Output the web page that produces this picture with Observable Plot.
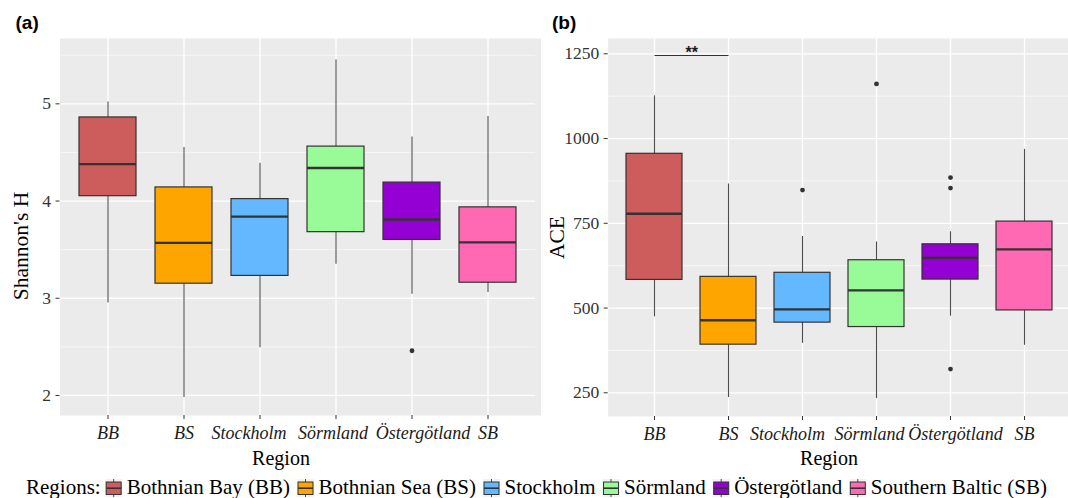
<!DOCTYPE html>
<html><head><meta charset="utf-8">
<script src="https://cdn.jsdelivr.net/npm/d3@7"></script>
<script src="https://cdn.jsdelivr.net/npm/@observablehq/plot@0.6"></script>
<style>
html,body{margin:0;padding:0;background:#fff;}
#wrap{position:relative;width:1068px;height:498px;overflow:hidden;background:#fff;}
#wrap svg{position:absolute;top:0;}
</style></head><body><div id="wrap"></div>
<script>
// ---------- data ----------
const categories = ["BB", "BS", "Stockholm", "Sörmland", "Östergötland", "SB"];
const regionNames = ["Bothnian Bay (BB)", "Bothnian Sea (BS)", "Stockholm", "Sörmland", "Östergötland", "Southern Baltic (SB)"];
const colors = ["#CD5C5C", "#FFA500", "#63B8FF", "#98FB98", "#9400D3", "#FF69B4"];

// Shannon's H (panel a)
const shLow  = [2.95, 1.98, 2.49, 3.35, 3.04, 3.06];
const shQ1   = [4.05, 3.15, 3.23, 3.68, 3.60, 3.16];
const shMed  = [4.38, 3.57, 3.84, 4.34, 3.81, 3.575];
const shQ3   = [4.86, 4.14, 4.02, 4.56, 4.19, 3.935];
const shHigh = [5.02, 4.55, 4.39, 5.45, 4.66, 4.87];
const shOutRegion = ["Östergötland"];
const shOutValue  = [2.46];
const shTicks = [2, 3, 4, 5];
const shMinor = [2.5, 3.5, 4.5, 5.5];

// ACE (panel b)
const aceLow  = [474, 236, 396, 233, 476, 390];
const aceQ1   = [583, 392, 457, 444, 584, 493];
const aceMed  = [778, 464, 496, 552, 648, 673];
const aceQ3   = [955, 592, 604, 641, 688, 755];
const aceHigh = [1126, 866, 711, 695, 725, 968];
const aceOutRegion = ["Stockholm", "Sörmland", "Östergötland", "Östergötland", "Östergötland"];
const aceOutValue  = [848, 1161, 885, 854, 320];
const aceTicks = [250, 500, 750, 1000, 1250];
const aceMinor = [375, 625, 875, 1125];

// significance annotation
const sigFrom = ["BB"], sigTo = ["BS"], sigValue = [1245], sigLabel = ["**"];

// ---------- drawing ----------
const wrap = document.getElementById("wrap");
const SERIF = "'Liberation Serif', 'Times New Roman', serif";
const SANS = "'Liberation Sans', Arial, sans-serif";

function panel(o) {
  const rows = categories.map((c, i) => ({region: c, low: o.low[i], q1: o.q1[i], med: o.med[i], q3: o.q3[i], high: o.high[i], color: colors[i]}));
  const outs = o.outRegion.map((r, i) => ({region: r, value: o.outValue[i]}));
  const labelMarks = categories.map((c, i) => Plot.text([c], {
    x: d => d, text: d => d, frameAnchor: "bottom", lineAnchor: "top", dy: 10.5, dx: o.shifts[i],
    fontStyle: "italic", fontSize: 18, fontFamily: SERIF, fill: "#1a1a1a"
  }));
  const svg = Plot.plot({
    width: o.width, height: 470,
    marginLeft: o.mLeft, marginRight: o.mRight, marginTop: 38, marginBottom: o.mBottom,
    style: `font-family: ${SERIF}; font-size: 17.5px; background: transparent; color: #333; overflow: visible;`,
    x: {type: "band", domain: categories, paddingInner: 0.25, paddingOuter: 0.225, align: 0.5, axis: null},
    y: {domain: o.domain, axis: null},
    color: {type: "identity"},
    marks: [
      Plot.frame({fill: "#EBEBEB", insetRight: o.bgExtend || 0}),
      Plot.gridY(o.minor, {stroke: "#fff", strokeOpacity: 1, strokeWidth: 0.6}),
      Plot.gridY(o.ticks, {stroke: "#fff", strokeOpacity: 1, strokeWidth: 1.3}),
      Plot.gridX(categories, {stroke: "#fff", strokeOpacity: 1, strokeWidth: 1.3}),
      Plot.axisY(o.ticks, {tickSize: 4, tickPadding: 5, tickFormat: d => String(d), fontSize: 17.5, fontFamily: SERIF, color: "#333", label: null}),
      Plot.axisX(categories, {tickSize: 4, tickFormat: () => "", label: null, color: "#333"}),
      ...labelMarks,
      Plot.ruleX(rows, {x: "region", y1: "low", y2: "high", stroke: "#4d4d4d", strokeWidth: 1.1}),
      Plot.barY(rows, {x: "region", y1: "q1", y2: "q3", fill: "color", stroke: "#333", strokeWidth: 1.2}),
      Plot.tickY(rows, {x: "region", y: "med", stroke: "#333", strokeWidth: 2.4}),
      Plot.dot(outs, {x: "region", y: "value", r: 2.4, fill: "#333", stroke: null}),
      ...(o.extra || [])
    ]
  });
  svg.style.left = o.left + "px";
  svg.style.position = "absolute";
  svg.style.top = "0px";
  wrap.appendChild(svg);
}

panel({
  low: shLow, q1: shQ1, med: shMed, q3: shQ3, high: shHigh,
  outRegion: shOutRegion, outValue: shOutValue,
  domain: [1.794, 5.672], ticks: shTicks, minor: shMinor,
  width: 545, left: 0, mLeft: 59.5, mRight: 10, mBottom: 55, bgExtend: -5.5,
  shifts: [0, 0, -11, -3, 11, 0]
});

const sig = sigFrom.map((f, i) => ({from: f, to: sigTo[i], value: sigValue[i], label: sigLabel[i]}));
panel({
  low: aceLow, q1: aceQ1, med: aceMed, q3: aceQ3, high: aceHigh,
  outRegion: aceOutRegion, outValue: aceOutValue,
  domain: [180.1, 1295.1], ticks: aceTicks, minor: aceMinor,
  width: 530, left: 545, mLeft: 62.7, mRight: 4.2, mBottom: 54,
  shifts: [0, 0, -15, -7, 5, 0],
  extra: [
    Plot.link(sig, {x1: "from", x2: "to", y1: "value", y2: "value", stroke: "#333", strokeWidth: 1.1}),
    Plot.text(sig, {x: "from", y: "value", text: "label", dx: 37.3, dy: -2.5, fontFamily: SANS, fontWeight: "bold", fontSize: 16, fill: "#1a1a1a"})
  ]
});

// ---------- overlay: panel tags, axis titles, legend ----------
const ov = d3.select(wrap).append("svg")
  .attr("width", 1068).attr("height", 498)
  .style("left", "0px").style("top", "0px").style("position", "absolute").style("pointer-events", "none");

ov.append("text").attr("x", 15.5).attr("y", 28.7).text("(a)")
  .attr("font-family", SANS).attr("font-weight", "bold").attr("font-size", 19).attr("fill", "#000");
ov.append("text").attr("x", 552).attr("y", 28.7).text("(b)")
  .attr("font-family", SANS).attr("font-weight", "bold").attr("font-size", 19).attr("fill", "#000");

ov.append("text").attr("transform", "translate(27.5,246) rotate(-90)").attr("text-anchor", "middle")
  .attr("font-family", SERIF).attr("font-size", 21.5).attr("fill", "#000").text("Shannon's H");
ov.append("text").attr("transform", "translate(564,237.5) rotate(-90)").attr("text-anchor", "middle")
  .attr("font-family", SERIF).attr("font-size", 21.5).attr("fill", "#000").text("ACE");

ov.append("text").attr("x", 281).attr("y", 465).attr("text-anchor", "middle")
  .attr("font-family", SERIF).attr("font-size", 20).attr("fill", "#000").text("Region");
ov.append("text").attr("x", 829).attr("y", 465).attr("text-anchor", "middle")
  .attr("font-family", SERIF).attr("font-size", 20).attr("fill", "#000").text("Region");

// legend
const LB = 494;
const lg = ov.append("g").attr("font-family", SERIF).attr("font-size", 21).attr("fill", "#000");
let cx = 26;
const t0 = lg.append("text").attr("x", cx).attr("y", LB).text("Regions:");
cx += t0.node().getComputedTextLength() + 5.5;
regionNames.forEach((name, i) => {
  const k = lg.append("g").attr("transform", `translate(${cx},0)`);
  k.append("rect").attr("x", -1).attr("y", 479).attr("width", 17).attr("height", 18).attr("fill", "#F2F2F2");
  k.append("line").attr("x1", 7.5).attr("x2", 7.5).attr("y1", 479).attr("y2", 497).attr("stroke", "#4d4d4d").attr("stroke-width", 1);
  k.append("rect").attr("x", 0).attr("y", 482).attr("width", 15).attr("height", 12.5).attr("fill", colors[i]).attr("stroke", "#333").attr("stroke-width", 1);
  k.append("line").attr("x1", 0).attr("x2", 15).attr("y1", 488.2).attr("y2", 488.2).attr("stroke", "#333").attr("stroke-width", 1.6);
  cx += 15 + 5.5;
  const t = lg.append("text").attr("x", cx).attr("y", LB).text(name);
  cx += t.node().getComputedTextLength() + 8;
});
</script></body></html>
